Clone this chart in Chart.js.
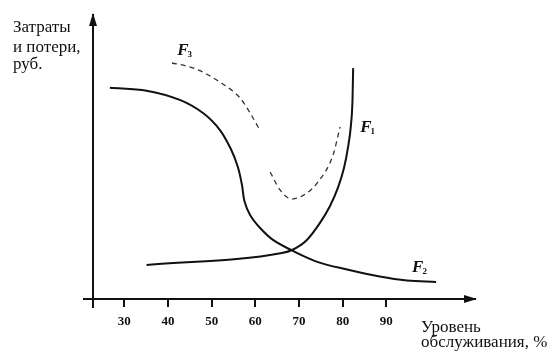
<!DOCTYPE html>
<html lang="ru">
<head>
<meta charset="UTF-8" />
<title>Затраты и потери</title>
<script src="https://cdn.jsdelivr.net/npm/chart.js"></script>
<style>
  html, body { margin: 0; padding: 0; background: #fff; }
</style>
</head>
<body>
<canvas id="costChart" width="557" height="361"></canvas>
<script>
// tick labels on the service level axis
const xTicks = [30, 40, 50, 60, 70, 80, 90];

// F1 - rises steeply at high service level
const f1X = [35.1, 66.1, 68.4, 71.8, 74.8, 77.1, 78.9, 80.3, 81.2, 81.9, 82.25, 82.4];
const f1Y = [12.0, 16.2, 17.25, 20.8, 26.8, 32.75, 39.1, 46.1, 53.2, 61.3, 70.1, 81.3];

// F2 - falling curve
const f2X = [26.7, 35.1, 42.7, 48.1, 51.9, 54.4, 56.0, 56.95, 57.5, 58.8, 61.1, 64.05, 68.4, 74.35, 81.0, 88.5, 94.7, 101.4];
const f2Y = [74.4, 73.35, 70.1, 65.4, 59.5, 52.8, 46.5, 40.1, 34.5, 29.6, 25.0, 20.8, 17.1, 13.0, 10.4, 7.9, 6.5, 6.0];

// F3 - total (dashed, with a break)
const f3X = [40.9, 44.3, 47.3, 52.3, 56.5, 58.8, 61.1, 62.2, 63.4, 65.65, 68.4, 71.8, 74.35, 77.8, 79.4];
const f3Y = [83.1, 82.0, 80.4, 75.95, 70.8, 65.5, 59.3, null, 44.7, 38.4, 35.2, 37.3, 41.2, 50.7, 60.6];

const toPoints = (xs, ys) => xs.map((x, i) => ({ x: x, y: ys[i] }));

const ink = "#111";
const serif = "'Liberation Serif', 'DejaVu Serif', serif";

const decorations = {
  id: "decorations",
  afterDraw(chart) {
    const { ctx, chartArea: a, scales } = chart;
    const sx = scales.x, sy = scales.y;
    ctx.save();
    ctx.fillStyle = ink;
    ctx.strokeStyle = ink;
    ctx.lineWidth = 2;

    // small overhangs of the axes past the origin
    ctx.beginPath();
    ctx.moveTo(a.left - 10, a.bottom);
    ctx.lineTo(a.left, a.bottom);
    ctx.moveTo(a.left, a.bottom);
    ctx.lineTo(a.left, a.bottom + 9);
    ctx.stroke();

    // arrow heads
    ctx.beginPath();
    ctx.moveTo(a.left, a.top - 2);
    ctx.lineTo(a.left - 4, a.top + 11);
    ctx.lineTo(a.left + 4, a.top + 11);
    ctx.closePath();
    ctx.fill();
    ctx.beginPath();
    ctx.moveTo(a.right + 2, a.bottom);
    ctx.lineTo(a.right - 11, a.bottom - 4);
    ctx.lineTo(a.right - 11, a.bottom + 4);
    ctx.closePath();
    ctx.fill();

    // axis titles
    ctx.textBaseline = "alphabetic";
    ctx.textAlign = "left";
    ctx.font = "17px " + serif;
    ctx.fillText("Затраты", 13, 31.5);
    ctx.fillText("и потери,", 13, 51.5);
    ctx.fillText("руб.", 13, 68.5);
    ctx.fillText("Уровень", 421, 331.5);
    ctx.fillText("обслуживания, %", 421, 347);

    // curve names
    const names = [
      { t: "3", x: 42.1, y: 85.9 },
      { t: "1", x: 84.0, y: 58.8 },
      { t: "2", x: 95.9, y: 9.5 }
    ];
    names.forEach((n) => {
      const px = sx.getPixelForValue(n.x);
      const py = sy.getPixelForValue(n.y);
      ctx.font = "italic bold 17px " + serif;
      ctx.fillText("F", px, py);
      const w = ctx.measureText("F").width;
      ctx.font = "bold 9px " + serif;
      ctx.fillText(n.t, px + w - 1, py + 2);
    });
    ctx.restore();
  }
};

new Chart(document.getElementById("costChart").getContext("2d"), {
  type: "line",
  data: {
    datasets: [
      {
        label: "F1",
        data: toPoints(f1X, f1Y),
        borderColor: ink,
        borderWidth: 2,
        pointRadius: 0,
        cubicInterpolationMode: "monotone"
      },
      {
        label: "F2",
        data: toPoints(f2X, f2Y),
        borderColor: ink,
        borderWidth: 2,
        pointRadius: 0,
        tension: 0.35
      },
      {
        label: "F3",
        data: toPoints(f3X, f3Y),
        borderColor: "#333",
        borderWidth: 1.3,
        borderDash: [5, 4],
        pointRadius: 0,
        spanGaps: false,
        cubicInterpolationMode: "monotone"
      }
    ]
  },
  options: {
    responsive: false,
    animation: false,
    layout: { padding: { left: 0, top: 15, right: 82, bottom: 0 } },
    plugins: {
      legend: { display: false },
      tooltip: { enabled: false }
    },
    scales: {
      x: {
        type: "linear",
        min: 22.83,
        max: 110.3,
        afterBuildTicks: (scale) => {
          scale.ticks = xTicks.map((v) => ({ value: v }));
        },
        afterFit: (scale) => { scale.height = 62; },
        grid: { drawOnChartArea: false, drawTicks: true, tickLength: 8, color: ink, lineWidth: 2 },
        border: { display: true, color: ink, width: 2 },
        ticks: {
          color: ink,
          padding: 7,
          font: { family: serif, size: 13, weight: "bold" }
        }
      },
      y: {
        type: "linear",
        min: 0,
        max: 100,
        afterFit: (scale) => { scale.width = 93; },
        grid: { drawOnChartArea: false, drawTicks: false },
        border: { display: true, color: ink, width: 2 },
        ticks: { display: false }
      }
    }
  },
  plugins: [decorations]
});
</script>
</body>
</html>
